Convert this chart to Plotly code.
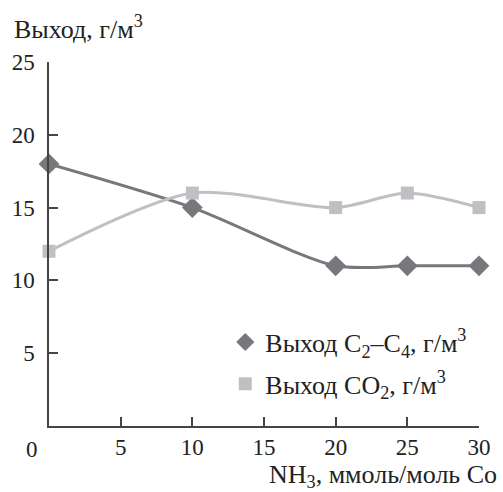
import plotly.graph_objects as go

x_nh3 = [0, 10, 20, 25, 30]
y_c2c4 = [18, 15, 11, 11, 11]
y_co2 = [12, 16, 15, 16, 15]
x_ticks = [5, 10, 15, 20, 25, 30]
y_ticks = [5, 10, 15, 20, 25]
name_c2c4 = "Выход C<sub>2</sub>–C<sub>4</sub>, г/м<sup>3</sup>"
name_co2 = "Выход CO<sub>2</sub>, г/м<sup>3</sup>"

FONT = "Liberation Serif"
AX = "#444444"
C_DARK = "#77787b"
C_LIGHT = "#bfc0c4"

fig = go.Figure()
fig.add_trace(go.Scatter(
    x=x_nh3, y=y_c2c4, mode="lines+markers", showlegend=False,
    line=dict(color=C_DARK, width=3, shape="spline", smoothing=0.8),
    marker=dict(symbol="diamond", size=16, color=C_DARK),
    cliponaxis=False,
))
fig.add_trace(go.Scatter(
    x=x_nh3, y=y_co2, mode="lines+markers", showlegend=False,
    line=dict(color=C_LIGHT, width=3, shape="spline", smoothing=0.8),
    marker=dict(symbol="square", size=13, color=C_LIGHT),
    cliponaxis=False,
))
# legend entries (markers only, as in the reference)
fig.add_trace(go.Scatter(
    x=[None], y=[None], name=name_c2c4, mode="markers", legendgroup="a",
    marker=dict(symbol="diamond", size=14, color=C_DARK),
))
fig.add_trace(go.Scatter(
    x=[None], y=[None], name=name_co2, mode="markers", legendgroup="b",
    marker=dict(symbol="square", size=13, color=C_LIGHT),
))

fig.update_layout(
    width=503, height=492,
    margin=dict(l=47, r=15, t=62, b=66),
    paper_bgcolor="white", plot_bgcolor="white",
    font=dict(family=FONT, size=23, color="#222222"),
    showlegend=True,
    legend=dict(
        x=0.41, y=0.295, xanchor="left", yanchor="top",
        bgcolor="rgba(0,0,0,0)", font=dict(size=26, family=FONT),
        traceorder="grouped", tracegroupgap=5,
    ),
    xaxis=dict(
        range=[0, 30], tickvals=x_ticks, ticktext=[str(v) for v in x_ticks],
        showline=True, linecolor=AX, linewidth=1.5,
        ticks="inside", ticklen=9, tickwidth=1.5, tickcolor=AX,
        showgrid=False, zeroline=False, tickfont=dict(size=23),
    ),
    yaxis=dict(
        range=[0, 25], tickvals=y_ticks, ticktext=[str(v) for v in y_ticks],
        showline=True, linecolor=AX, linewidth=1.5,
        ticks="inside", ticklen=9, tickwidth=1.5, tickcolor=AX,
        showgrid=False, zeroline=False, tickfont=dict(size=23),
        ticklabelstandoff=8,
    ),
    annotations=[
        dict(text="Выход, г/м<sup>3</sup>", xref="paper", yref="paper",
             x=-38/441, y=1 + 34/364, xanchor="left", yanchor="middle",
             showarrow=False, font=dict(size=26)),
        dict(text="0", xref="paper", yref="paper",
             x=-17/441, y=-23/364, xanchor="center", yanchor="middle",
             showarrow=False, font=dict(size=23)),
        dict(text="NH<sub>3</sub>, ммоль/моль Co", xref="paper", yref="paper",
             x=1 + 20/441, y=-50/364, xanchor="right", yanchor="middle",
             showarrow=False, font=dict(size=26)),
    ],
)

fig.write_html("out.html", config={"displayModeBar": False},
               post_script="document.body.style.margin='0';")
